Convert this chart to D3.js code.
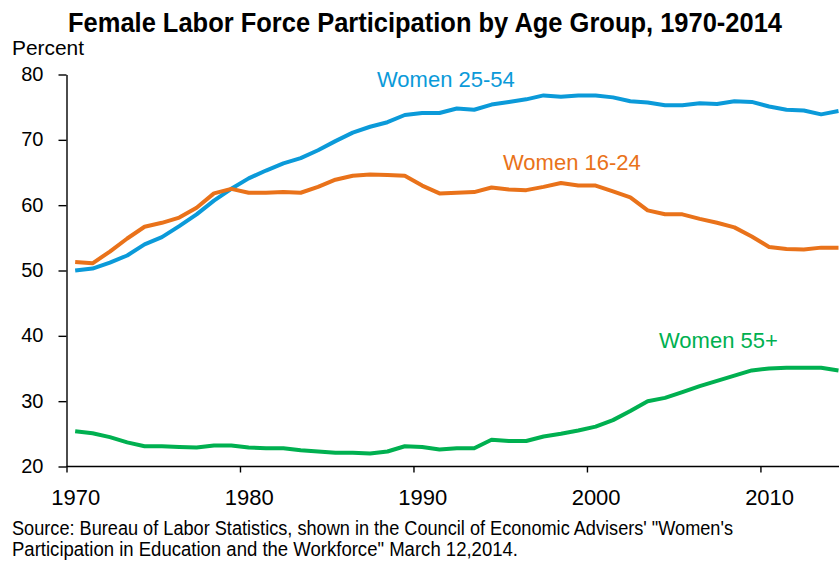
<!DOCTYPE html>
<html>
<head>
    <meta charset="utf-8">
    <title>Female Labor Force Participation</title>
    <style type="text/css">
        body { margin: 0; background: #fff; }
        svg { font-family: "Liberation Sans", Arial, sans-serif; }
        .axis path, .axis line {
            fill: none;
            stroke: #000;
            stroke-width: 1.4px;
        }
        .axis text {
            font-size: 20px;
            fill: #000;
        }
        .xAxis text { font-size: 22px; }
        .line { fill: none; stroke-width: 4px; stroke-linejoin: round; }
        .label { font-size: 22px; }
    </style>
</head>
<body>
<svg width="839" height="561"></svg>

<script src="https://cdnjs.cloudflare.com/ajax/libs/d3/7.8.5/d3.min.js"></script>
<script type="text/javascript">
    /*=========DATA=========*/
    var years = d3.range(1970, 2015);
    var women2554 = [
        50.0, 50.3, 51.2, 52.3, 54.0, 55.1, 56.8, 58.6, 60.7, 62.5,
        64.1, 65.3, 66.4, 67.2, 68.4, 69.8, 71.1, 72.0, 72.7, 73.8,
        74.1, 74.1, 74.8, 74.6, 75.4, 75.8, 76.2, 76.8, 76.6, 76.8,
        76.8, 76.5, 75.9, 75.7, 75.3, 75.3, 75.6, 75.5, 75.9, 75.8,
        75.1, 74.6, 74.5, 73.9, 74.4
    ];
    var women1624 = [
        51.3, 51.1, 52.9, 54.9, 56.7, 57.3, 58.1, 59.6, 61.8, 62.5,
        61.9, 61.9, 62.0, 61.9, 62.8, 63.9, 64.5, 64.7, 64.6, 64.5,
        63.0, 61.8, 61.9, 62.0, 62.7, 62.4, 62.3, 62.8, 63.4, 63.0,
        63.0, 62.1, 61.2, 59.2, 58.6, 58.6, 57.9, 57.3, 56.6, 55.2,
        53.6, 53.3, 53.2, 53.5, 53.5
    ];
    var women55 = [
        25.4, 25.1, 24.5, 23.7, 23.1, 23.1, 23.0, 22.9, 23.2, 23.2,
        22.9, 22.8, 22.8, 22.5, 22.3, 22.1, 22.1, 22.0, 22.3, 23.1,
        23.0, 22.6, 22.8, 22.8, 24.1, 23.9, 23.9, 24.6, 25.0, 25.5,
        26.1, 27.1, 28.5, 30.0, 30.5, 31.4, 32.3, 33.1, 33.9, 34.7,
        35.0, 35.1, 35.1, 35.1, 34.7
    ];
    var seriesNames = ['Women 25-54', 'Women 16-24', 'Women 55+'];
    var xTicks = [1970, 1980, 1990, 2000, 2010];
    var yTicks = [20, 30, 40, 50, 60, 70, 80];

    var title = 'Female Labor Force Participation by Age Group, 1970-2014';
    var yTitle = 'Percent';
    var source1 = 'Source: Bureau of Labor Statistics, shown in the Council of Economic Advisers\' "Women\'s';
    var source2 = 'Participation in Education and the Workforce" March 12,2014.';

    /*===========COLOR=======*/
    var colors = ['#0b9ad9', '#e9721a', '#00b050'];

    /*=========computed============*/
    var margin = { top: 74.5, left: 66.5 };
    var width = 772;
    var height = 392;

    var svg = d3.select('svg');

    var xScale = d3.scaleLinear().domain([1970, 2014.5]).range([0, width]);
    var yScale = d3.scaleLinear().domain([20, 80]).range([height, 0]);

    var focus = svg.append('g')
        .attr('transform', 'translate(' + margin.left + ',' + margin.top + ')');

    // axes
    var xAxis = d3.axisBottom(xScale)
        .tickValues(xTicks)
        .tickSize(6)
        .tickFormat(d3.format('d'));
    var yAxis = d3.axisLeft(yScale)
        .tickValues(yTicks)
        .tickSize(8)
        .tickPadding(15)
        .tickSizeOuter(0);

    var gx = focus.append('g').attr('class', 'x axis xAxis')
        .attr('transform', 'translate(0,' + height + ')')
        .call(xAxis);
    gx.select('.domain').attr('d', 'M0,0H' + (width + 1));
    // year labels sit at the middle of the year
    var half = xScale(1970.5) - xScale(1970);
    gx.selectAll('.tick text')
        .attr('x', half)
        .attr('y', 38.5)
        .attr('dy', 0);

    var gy = focus.append('g').attr('class', 'y axis yAxis').call(yAxis);
    gy.selectAll('.tick text').attr('dy', '0.3em');

    // lines
    var line = d3.line()
        .x(function (d, i) { return xScale(years[i] + 0.5); })
        .y(function (d) { return yScale(d); });

    var allSeries = [women2554, women1624, women55];
    focus.selectAll('.line')
        .data(allSeries)
        .enter().append('path')
        .attr('class', 'line')
        .attr('d', function (d) { return line(d); })
        .attr('stroke', function (d, i) { return colors[i]; });

    // series labels
    var labelPos = [[377, 87], [503, 170], [659, 348]];
    svg.selectAll('.label')
        .data(seriesNames)
        .enter().append('text')
        .attr('class', 'label')
        .attr('x', function (d, i) { return labelPos[i][0]; })
        .attr('y', function (d, i) { return labelPos[i][1]; })
        .attr('fill', function (d, i) { return colors[i]; })
        .text(function (d) { return d; });

    // titles
    svg.append('text')
        .attr('x', 68).attr('y', 32)
        .attr('font-size', '27px')
        .attr('font-weight', 'bold')
        .attr('textLength', 714)
        .attr('lengthAdjust', 'spacingAndGlyphs')
        .text(title);

    svg.append('text')
        .attr('x', 12).attr('y', 55)
        .attr('font-size', '21px')
        .attr('textLength', 72)
        .attr('lengthAdjust', 'spacingAndGlyphs')
        .text(yTitle);

    svg.append('text')
        .attr('x', 12).attr('y', 535)
        .attr('font-size', '20px')
        .attr('textLength', 721)
        .attr('lengthAdjust', 'spacingAndGlyphs')
        .text(source1);

    svg.append('text')
        .attr('x', 12).attr('y', 556)
        .attr('font-size', '20px')
        .attr('textLength', 506)
        .attr('lengthAdjust', 'spacingAndGlyphs')
        .text(source2);
</script>
</body>
</html>
